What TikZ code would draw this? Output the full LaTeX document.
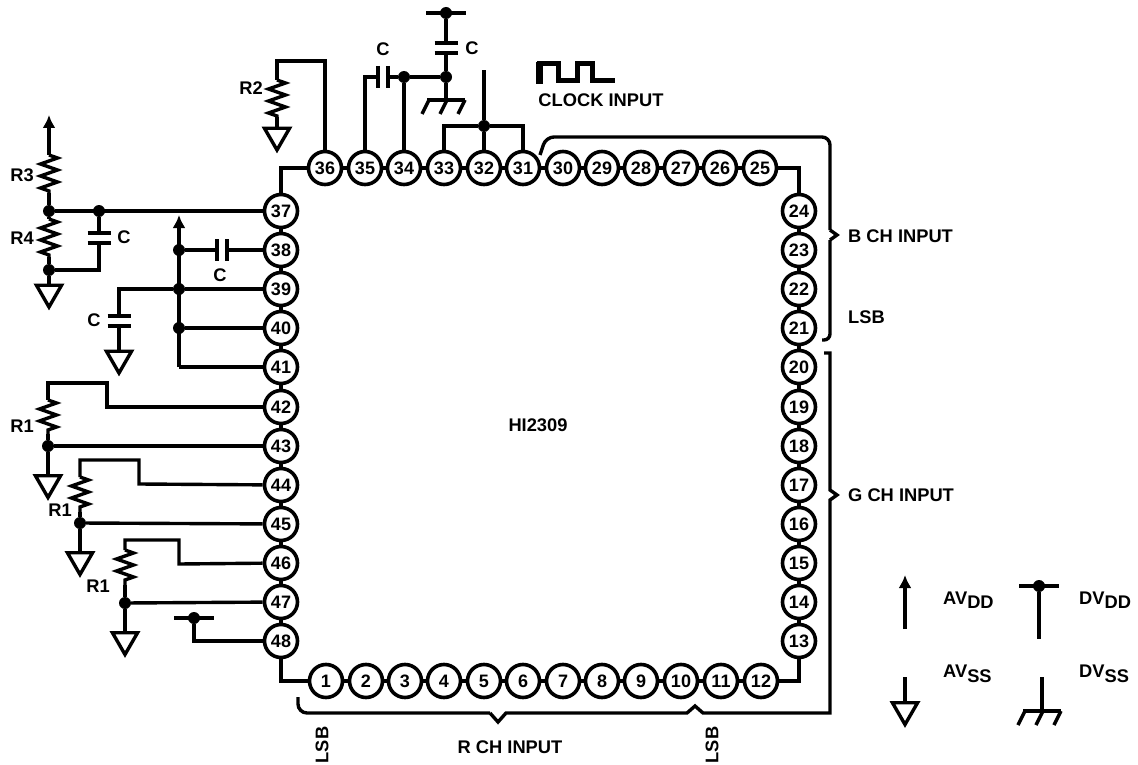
\documentclass[tikz,border=0pt]{standalone}
\usepackage{fontspec}
\setmainfont{Liberation Sans}
\usetikzlibrary{shapes.geometric, arrows.meta, positioning}
\usetikzlibrary{decorations.pathmorphing}
\newcommand{\lowsub}[1]{\lower4.5pt\hbox{#1}}
\tikzset{
    wire/.style = {line width=3.4pt},
    res/.style = {decorate, decoration={zigzag, amplitude=8.5pt, segment length=12pt}},
    pin/.style = {circle, draw, line width=3.6pt, fill=white, minimum size=33pt, inner sep=0pt, font=\bfseries\fontsize{18}{20}\selectfont},
    junc/.style = {circle, fill=black, inner sep=0pt, minimum size=12pt},
    gnd/.style = {regular polygon, regular polygon sides=3, shape border rotate=180, draw, line width=3.4pt, fill=white, minimum size=29pt, inner sep=0pt},
    lbl/.style = {font=\bfseries\fontsize{18.3}{20}\selectfont, inner sep=0pt},
    pics/caph/.style = {code={
        \coordinate (-a) at (-5,0);
        \coordinate (-b) at (5,0);
        \draw[wire] (-5,-11) -- (-5,11);
        \draw[wire] (5,-11) -- (5,11);
    }},
    pics/capv/.style = {code={
        \coordinate (-a) at (0,-5);
        \coordinate (-b) at (0,5);
        \draw[wire] (-11.5,-5) -- (11.5,-5);
        \draw[wire] (-11.5,5) -- (11.5,5);
    }},
    pics/dvdd/.style = {code={
        \node[junc] (-d) at (0,0) {};
        \draw[wire] (-20,0) -- (20,0);
    }},
    pics/dvss/.style = {code={
        \coordinate (-t) at (0,0);
        \draw[wire] (-19,0) -- (19,0);
        \foreach \h in {-17, 1, 19}{
            \draw[wire] (\h,0) -- (\h-7,14);
        }
    }},
}
\begin{document}
\begin{tikzpicture}[x=1pt, y=-1pt]
    \useasboundingbox (0,0) rectangle (1138,765);
    \foreach \n/\x in {36/325, 35/365, 34/404, 33/444, 32/484, 31/523, 30/563, 29/602, 28/641, 27/681, 26/720, 25/760}{
        \node[pin] (P\n) at (\x,168) {\n};
    }
    \foreach \n/\y in {24/211, 23/250, 22/289, 21/328, 20/367, 19/407, 18/446, 17/485, 16/524, 15/563, 14/602, 13/641}{
        \node[pin] (P\n) at (799,\y) {\n};
    }
    \foreach \n/\y in {37/211, 38/250, 39/289, 40/328, 41/367, 42/407, 43/446, 44/485, 45/524, 46/563, 47/602, 48/641}{
        \node[pin] (P\n) at (281,\y) {\n};
    }
    \foreach \n/\x in {1/326, 2/366, 3/405, 4/444, 5/484, 6/523, 7/563, 8/602, 9/641, 10/681, 11/721, 12/761}{
        \node[pin] (P\n) at (\x,681) {\n};
    }
    \foreach \a/\b in {1/2, 2/3, 3/4, 4/5, 5/6, 6/7, 7/8, 8/9, 9/10, 10/11, 11/12, 13/14, 14/15, 15/16, 16/17, 17/18, 18/19, 19/20, 20/21, 21/22, 22/23, 23/24, 25/26, 26/27, 27/28, 28/29, 29/30, 30/31, 31/32, 32/33, 33/34, 34/35, 35/36, 37/38, 38/39, 39/40, 40/41, 41/42, 42/43, 43/44, 44/45, 45/46, 46/47, 47/48}{
        \draw[wire] (P\a) -- (P\b);
    }
    \draw[wire] (P12) -| (P13);
    \draw[wire] (P25) -| (P24);
    \draw[wire] (P36) -| (P37);
    \draw[wire] (P48) |- (P1);

    \node[junc] (J37a) at (49,211) {};
    \node[junc] (J37b) at (99,211) {};
    \node[junc] (J4) at (49,270) {};
    \node[gnd] (G4) at (49,292.5) {};
    \coordinate (A3) at (49,115);
    \coordinate (R3t) at (49,155);
    \coordinate (R3b) at (49,193);
    \coordinate (R4t) at (49,219);
    \coordinate (R4b) at (49,257);
    \coordinate (C4c) at (99,270);
    \pic (C4) at (99,238) {capv};
    \draw[wire, -{Latex[length=13pt, width=13pt]}] (R3t) -- (A3);
    \draw[wire, res] (R3t) -- (R3b);
    \draw[wire] (R3b) -- (J37a);
    \draw[wire] (J37a) -- (P37);
    \draw[wire, res] (R4t) -- (R4b);
    \draw[wire] (J37a) -- (R4t);
    \draw[wire] (R4b) -- (J4);
    \draw[wire] (J4) -- (G4);
    \draw[wire] (J37b) -- (C4-a);
    \draw[wire] (C4-b) -- (C4c) -- (J4);
    \node[lbl] (T3) at (22,175) {R3};
    \node[lbl] (T4) at (22,238) {R4};
    \node[lbl] (TC4) at (124,237) {C};

    \coordinate (A39) at (179,215);
    \coordinate (B41) at (179,367);
    \coordinate (C39c) at (119,289);
    \node[junc] (J38) at (179,250) {};
    \node[junc] (J39) at (179,289) {};
    \node[junc] (J40) at (179,328) {};
    \node[gnd] (G39) at (119,358.5) {};
    \pic (C38) at (222,250) {caph};
    \pic (C39) at (119,321) {capv};
    \draw[wire, -{Latex[length=13pt, width=13pt]}] (B41) -- (A39);
    \draw[wire] (B41) -- (P41);
    \draw[wire] (J38) -- (C38-a);
    \draw[wire] (C38-b) -- (P38);
    \draw[wire] (J39) -- (P39);
    \draw[wire] (J40) -- (P40);
    \draw[wire] (J39) -- (C39c) -- (C39-a);
    \draw[wire] (C39-b) -- (G39);
    \node[lbl] (TC38) at (220,275) {C};
    \node[lbl] (TC39) at (94,320) {C};

    \foreach \k/\x/\w/\p/\q/\t/\a/\b/\g/\lx/\ly in {42/48/107/42/43/383/400/434/483/22/426, 44/80/139/44/45/460/477/512/560/60/510, 46/125/179/46/47/540/550/585/640/98/586}{
        \coordinate (U\k) at (\x,\t);
        \coordinate (V\k) at (\w,\t);
        \coordinate (W\k) at (\w,{\t+24});
        \coordinate (Ra\k) at (\x,\a);
        \coordinate (Rb\k) at (\x,\b);
        \node[junc] (J\k) at (\x,{\t+63}) {};
        \node[gnd] (G\k) at (\x,\g) {};
        \draw[wire] (P\p) -- (W\k) -- (V\k) -- (U\k) -- (Ra\k);
        \draw[wire, res] (Ra\k) -- (Rb\k);
        \draw[wire] (Rb\k) -- (J\k);
        \draw[wire] (J\k) -- (P\q);
        \draw[wire] (J\k) -- (G\k);
        \node[lbl] (TR\k) at (\lx,\ly) {R1};
    }

    \pic (D48) at (194,618) {dvdd};
    \coordinate (D48c) at (194,641);
    \draw[wire] (D48-d) -- (D48c) -- (P48);

    \coordinate (R2u) at (277,61);
    \coordinate (R2v) at (325,61);
    \coordinate (R2t) at (277,80);
    \coordinate (R2b) at (277,117);
    \node[gnd] (G2) at (277,135.5) {};
    \draw[wire] (P36) -- (R2v) -- (R2u) -- (R2t);
    \draw[wire, res] (R2t) -- (R2b);
    \draw[wire] (R2b) -- (G2);
    \node[lbl] (T2) at (251,88) {R2};

    \coordinate (C35c) at (365,77);
    \node[junc] (J34) at (404,77) {};
    \node[junc] (J0) at (446,77) {};
    \pic (C35) at (383,77) {caph};
    \pic (C0) at (446,48) {capv};
    \pic (D0) at (446,13) {dvdd};
    \pic (S0) at (446,100) {dvss};
    \draw[wire] (P35) -- (C35c) -- (C35-a);
    \draw[wire] (C35-b) -- (J34);
    \draw[wire] (J34) -- (P34);
    \draw[wire] (J34) -- (J0);
    \draw[wire] (J0) -- (C0-b);
    \draw[wire] (C0-a) -- (D0-d);
    \draw[wire] (J0) -- (S0-t);
    \node[lbl] (TC35) at (383,49) {C};
    \node[lbl] (TC0) at (472,48) {C};

    \node[junc] (J32) at (484,126) {};
    \coordinate (E32) at (484,70);
    \draw[wire] (P33) |- (J32);
    \draw[wire] (P31) |- (J32);
    \draw[wire] (P32) -- (J32) -- (E32);

    \draw[line width=5pt, line join=miter] (539,84) -- (539,64) -- (558,64) -- (558,81) -- (577,81) -- (577,64) -- (592,64) -- (592,81) -- (615,81);
    \draw[line width=7pt] (539,84) -- (539,62);
    \node[lbl] (TCK) at (601,100) {CLOCK INPUT};

    \node[lbl] (TIC) at (538,425) {HI2309};
    \node[lbl, anchor=west] (TB) at (848,236) {B CH INPUT};
    \node[lbl, anchor=west] (TL) at (848,317) {LSB};
    \node[lbl, anchor=west] (TG) at (848,495) {G CH INPUT};
    \node[lbl] (TR) at (510,747) {R CH INPUT};
    \node[lbl, rotate=90] (TL1) at (322,745) {LSB};
    \node[lbl, rotate=90] (TL2) at (712,745) {LSB};

    \coordinate (Ba) at (540,155);
    \coordinate (Bb) at (830,340);
    \draw[wire, rounded corners=8pt] (Ba) -- (546,137) -- (830,137) -- (830,230);
    \draw[wire] (830,230) -- (837,235) -- (830,240);
    \draw[wire, rounded corners=6pt] (830,240) -- (Bb) -- (822,340);
    \draw[wire] (824,353) -- (830,353) -- (830,490) -- (837,495) -- (830,500) -- (830,713) -- (703,713) -- (695,706) -- (687,713) -- (506,713) -- (498,722) -- (490,713);
    \draw[wire, rounded corners=9pt] (490,713) -- (298,713) -- (298,697);

    \coordinate (AVa) at (905,629);
    \coordinate (AVb) at (905,575);
    \coordinate (SVa) at (905,677);
    \node[gnd] (SVg) at (905,710) {};
    \pic (DV) at (1039,586) {dvdd};
    \coordinate (DVb) at (1039,639);
    \pic (SD) at (1042,711) {dvss};
    \coordinate (SDa) at (1042,677);
    \draw[wire, -{Latex[length=13pt, width=13pt]}] (AVa) -- (AVb);
    \draw[wire] (SVa) -- (SVg);
    \draw[wire] (DV-d) -- (DVb);
    \draw[wire] (SDa) -- (SD-t);
    \node[lbl, anchor=west] (TAD) at (943,600) {AV\lowsub{DD}};
    \node[lbl, anchor=west] (TDD) at (1079,600) {DV\lowsub{DD}};
    \node[lbl, anchor=west] (TAS) at (943,674) {AV\lowsub{SS}};
    \node[lbl, anchor=west] (TDS) at (1079,674) {DV\lowsub{SS}};
\end{tikzpicture}
\end{document}
